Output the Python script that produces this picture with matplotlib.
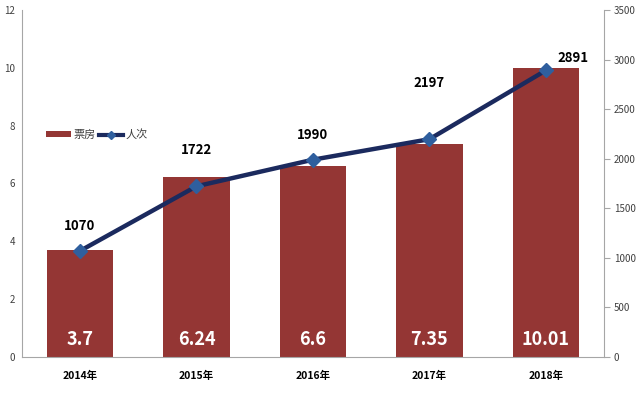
import matplotlib.pyplot as plt
import numpy as np
from matplotlib.lines import Line2D
from matplotlib.patches import Patch

plt.rcParams["font.family"] = ["Noto Sans CJK SC", "DejaVu Sans"]

years = ["2014年", "2015年", "2016年", "2017年", "2018年"]
box_office = [3.7, 6.24, 6.6, 7.35, 10.01]
attendance = [1070, 1722, 1990, 2197, 2891]

# label offsets (pixels) for the attendance labels, as placed in the original
label_offsets = [(0, 25), (0, 36), (0, 25), (0, 56), (27, 12)]

BAR_COLOR = "#943634"
LINE_COLOR = "#1B2A5E"
MARKER_COLOR = "#2F5F9E"
AXIS_GRAY = "#A6A6A6"

fig = plt.figure(figsize=(6.4, 3.93), dpi=100)
ax = fig.add_axes([0.034, 0.0916, 0.91, 0.883])
ax2 = ax.twinx()

x = np.arange(len(years))
ax.bar(x, box_office, width=0.57, color=BAR_COLOR, zorder=1)
for xi, v in zip(x, box_office):
    ax.text(xi, 0.6, f"{v:g}", ha="center", va="center", color="white",
            fontsize=13, fontweight="bold")

ax2.plot(x, attendance, color=LINE_COLOR, lw=3.2, marker="D", ms=7,
         markerfacecolor=MARKER_COLOR, markeredgecolor=MARKER_COLOR, zorder=3)
for xi, v, off in zip(x, attendance, label_offsets):
    ax2.annotate(f"{v}", (xi, v), xytext=off, textcoords="offset pixels",
                 ha="center", va="center", fontsize=9.5, fontweight="bold",
                 color="black")

ax.set_xlim(-0.5, len(years) - 0.5)
ax.set_ylim(0, 12)
ax.set_yticks(range(0, 13, 2))
ax2.set_ylim(0, 3500)
ax2.set_yticks(range(0, 3501, 500))

ax.set_xticks(x)
ax.set_xticklabels(years, fontsize=7.5, fontweight="bold")
ax.tick_params(axis="x", length=0, pad=10)
ax.tick_params(axis="y", length=0, labelsize=7, colors="#404040", pad=5)
ax2.tick_params(axis="y", length=4, direction="out", labelsize=7,
                colors="#404040", pad=3)
ax2.tick_params(axis="y", color=AXIS_GRAY)

for a in (ax, ax2):
    a.spines["top"].set_visible(False)
ax.spines["right"].set_visible(False)
ax.spines["left"].set_color(AXIS_GRAY)
ax.spines["bottom"].set_color(AXIS_GRAY)
ax2.spines["left"].set_visible(False)
ax2.spines["bottom"].set_visible(False)
ax2.spines["right"].set_color(AXIS_GRAY)

handles = [
    Patch(facecolor=BAR_COLOR, label="票房"),
    Line2D([0], [0], color=LINE_COLOR, lw=3, marker="D", ms=4,
           markerfacecolor=MARKER_COLOR, markeredgecolor=MARKER_COLOR, label="人次"),
]
ax.legend(handles=handles, loc="center left", bbox_to_anchor=(0.025, 0.64),
          ncol=2, frameon=False, fontsize=8, handlelength=2.2,
          handleheight=0.45, handletextpad=0.2, columnspacing=0.3,
          labelcolor="#404040")

fig.savefig("out.png", dpi=100)
